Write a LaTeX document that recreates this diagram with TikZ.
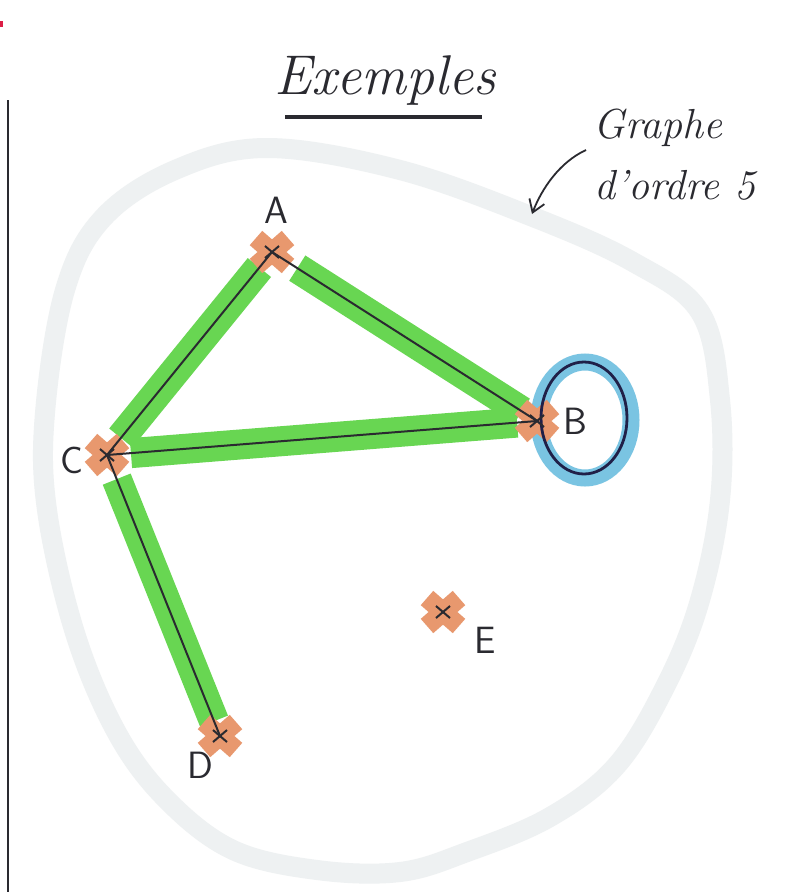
\documentclass[tikz,border=0pt]{standalone}
\usepackage{fontspec}
\usetikzlibrary{arrows.meta}
\definecolor{hlgreen}{RGB}{104,214,82}
\definecolor{hlorange}{RGB}{232,152,110}
\definecolor{hlblue}{RGB}{122,196,226}
\definecolor{navyink}{RGB}{32,32,72}
\definecolor{blobgray}{RGB}{238,241,242}
\definecolor{ink}{RGB}{42,42,48}
\definecolor{redmark}{RGB}{220,30,70}
\tikzset{
  edgehl/.style={hlgreen,line width=30pt,line cap=butt},
  edgeink/.style={ink,line width=2pt},
  crossstroke/.style={hlorange,line width=19pt,line cap=butt},
  smallx/.style={ink,line width=2pt},
  vlabel/.style={font=\sffamily\fontsize{38}{40}\selectfont,text=ink,inner sep=0pt},
  script/.style={font=\itshape\fontsize{42}{46}\selectfont,text=ink,inner sep=0pt},
  vx/.pic={
    \draw[crossstroke] (-16,-14) -- (16,14);
    \draw[crossstroke] (-16,14) -- (16,-14);
  },
  vxink/.pic={
    \draw[smallx] (-7,-6) -- (7,6);
    \draw[smallx] (-7,6) -- (7,-6);
  }
}
\begin{document}
\begin{tikzpicture}[x=1pt,y=-1pt]
\useasboundingbox (0,0) rectangle (788,892);
\fill[white] (0,0) rectangle (788,892);
% margin line and mark
\coordinate (m1) at (8,100);
\coordinate (m2) at (8,892);
\draw[ink,line width=2pt] (m1) -- (m2);
\fill[redmark] (0,21) rectangle (3,27);
% blob
\draw[blobgray,line width=20pt] plot[smooth cycle,tension=0.6] coordinates {
 (267,148) (400,170) (533,217) (633,262) (700,312) (720,400) (720,500)
 (700,600) (667,683) (617,765) (550,817) (467,852) (400,872) (317,870)
 (233,850) (167,800) (117,733) (75,633) (47,510) (45,413) (65,290)
 (103,218) (175,170)};
% vertices
\coordinate (A) at (272,252);
\coordinate (B) at (537,421);
\coordinate (C) at (107,455);
\coordinate (D) at (220,736);
\coordinate (E) at (443,612);
% loop at B
\draw[hlblue,line width=17pt] (585,420) ellipse [x radius=46, y radius=58];
% green highlights
\draw[edgehl,shorten <=20pt,shorten >=22pt] (A) -- (C);
\draw[edgehl,shorten <=30pt,shorten >=18pt] (A) -- (B);
\draw[edgehl,shorten <=24pt,shorten >=20pt] (C) -- (B);
\draw[edgehl,shorten <=26pt,shorten >=16pt] (C) -- (D);
% orange crosses
\foreach \v in {A,B,C,D,E} { \pic at (\v) {vx}; }
% ink edges
\draw[edgeink] (A) -- (C);
\draw[edgeink] (A) -- (B);
\draw[edgeink] (C) -- (B);
\draw[edgeink] (C) -- (D);
\draw[navyink,line width=2.8pt] (584,418) ellipse [x radius=43, y radius=56];
\foreach \v in {A,B,C,D,E} { \pic at (\v) {vxink}; }
% labels
\node[vlabel] (lA) at (276,210) {A};
\node[vlabel] (lB) at (575,421) {B};
\node[vlabel] (lC) at (72,460) {C};
\node[vlabel] (lD) at (200,765) {D};
\node[vlabel] (lE) at (485,640) {E};
% title
\node[font=\itshape\fontsize{56}{60}\selectfont,text=ink,inner sep=0pt] (title) at (385,80) {Exemples};
\coordinate (u1) at (285,117);
\coordinate (u2) at (482,117);
\draw[ink,line width=4pt] (u1) -- (u2);
% annotation
\node[script] (g1) at (658,128) {Graphe};
\node[script] (g2) at (675,185) {d'ordre 5};
\coordinate (ar1) at (586,150);
\coordinate (ar2) at (532,214);
\draw[ink,line width=1.8pt,-{Straight Barb[length=12pt,width=16pt]}] (ar1) .. controls (560,162) and (542,188) .. (ar2);
\end{tikzpicture}
\end{document}
